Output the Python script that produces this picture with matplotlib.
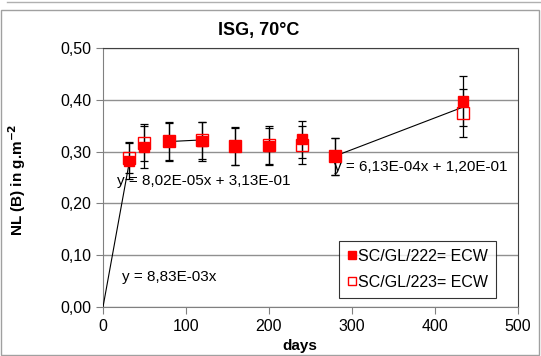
import matplotlib
matplotlib.use("Agg")
import matplotlib.pyplot as plt
from matplotlib.patches import Rectangle
import numpy as np

plt.rcParams['font.family'] = ['Liberation Sans', 'DejaVu Sans']

# data
days = [31, 49, 80, 119, 159, 200, 240, 280, 434]
nl_222 = [0.282, 0.309, 0.320, 0.320, 0.310, 0.310, 0.324, 0.291, 0.398]
err_222 = [0.035, 0.040, 0.038, 0.038, 0.036, 0.036, 0.036, 0.036, 0.048]
nl_223 = [0.288, 0.317, 0.320, 0.322, 0.311, 0.313, 0.313, 0.291, 0.374]
err_223 = [0.030, 0.036, 0.036, 0.036, 0.036, 0.036, 0.036, 0.036, 0.046]

# trend lines: (slope, intercept, x range, label, label position)
trends = [
    (8.83e-03, 0.0, (0, 32), "y = 8,83E-03x", (23, 0.058)),
    (8.02e-05, 0.313, (80, 119), "y = 8,02E-05x + 3,13E-01", (17, 0.243)),
    (6.13e-04, 0.120, (280, 434), "y = 6,13E-04x + 1,20E-01", (278, 0.270)),
]

x_ticks = [0, 100, 200, 300, 400, 500]
y_ticks = [0.0, 0.1, 0.2, 0.3, 0.4, 0.5]

fig = plt.figure(figsize=(5.41, 3.56), dpi=100)
ax = fig.add_axes([103/541, 49/356, 415/541, 259/356])

# chart frame
fig.patches.append(Rectangle((1/541, 1/356), 538/541, 345/356, transform=fig.transFigure,
                             fill=False, edgecolor='#a0a0a0', lw=1))
fig.lines.append(plt.Line2D([7/541, 1], [354/356, 354/356], transform=fig.transFigure,
                            color='#b0b0b0', lw=1))

ax.grid(axis='y', color='#909090', lw=1)
ax.set_axisbelow(True)

for slope, icpt, (x0, x1), txt, (tx, ty) in trends:
    xs = np.array([x0, x1])
    ax.plot(xs, slope * xs + icpt, color='black', lw=0.8, zorder=3)
    ax.text(tx, ty, txt, fontsize=11, va='center', ha='left', zorder=5)

ax.errorbar(days, nl_222, yerr=err_222, fmt='none', ecolor='black', elinewidth=0.9,
            capsize=3, capthick=0.9, zorder=2)
ax.errorbar(days, nl_223, yerr=err_223, fmt='none', ecolor='black', elinewidth=0.9,
            capsize=3, capthick=0.9, zorder=2)
ax.plot(days, nl_222, 's', color='red', markersize=6.5, ls='none', zorder=4,
        label='SC/GL/222= ECW')
ax.plot(days, nl_223, 's', markerfacecolor='none', markeredgecolor='red', markeredgewidth=1,
        markersize=8, ls='none', zorder=4, label='SC/GL/223= ECW')

ax.set_xlim(0, 500)
ax.set_ylim(0, 0.5)
ax.set_xticks(x_ticks)
ax.set_yticks(y_ticks)
ax.set_yticklabels([f"{v:.2f}".replace('.', ',') for v in y_ticks])
ax.tick_params(labelsize=11.5, color='#808080', length=5, direction='out')

for s in ['left', 'bottom']:
    ax.spines[s].set_color('#808080')
for s in ['top', 'right']:
    ax.spines[s].set_color('#404040')

ax.set_xlabel('days', fontsize=11, fontweight='bold')
ax.xaxis.set_label_coords((300 - 103) / 415, -0.125)
ax.set_ylabel(r'NL (B) in g.m$^{\mathbf{-2}}$', fontsize=11, fontweight='bold')
ax.yaxis.set_label_coords(-0.18, 0.49)

fig.text(259/541, 1 - 30/356, 'ISG, 70°C', fontsize=13, fontweight='bold',
         ha='center', va='center')

leg = ax.legend(loc='lower right', bbox_to_anchor=(393/415, 9/259), fontsize=11.5,
                frameon=True, fancybox=False, edgecolor='black', handlelength=0.6,
                handletextpad=0.1, borderpad=0.5, labelspacing=0.7, markerscale=0.8,
                borderaxespad=0)
leg.get_frame().set_linewidth(0.8)

fig.savefig('out.png', dpi=100)
